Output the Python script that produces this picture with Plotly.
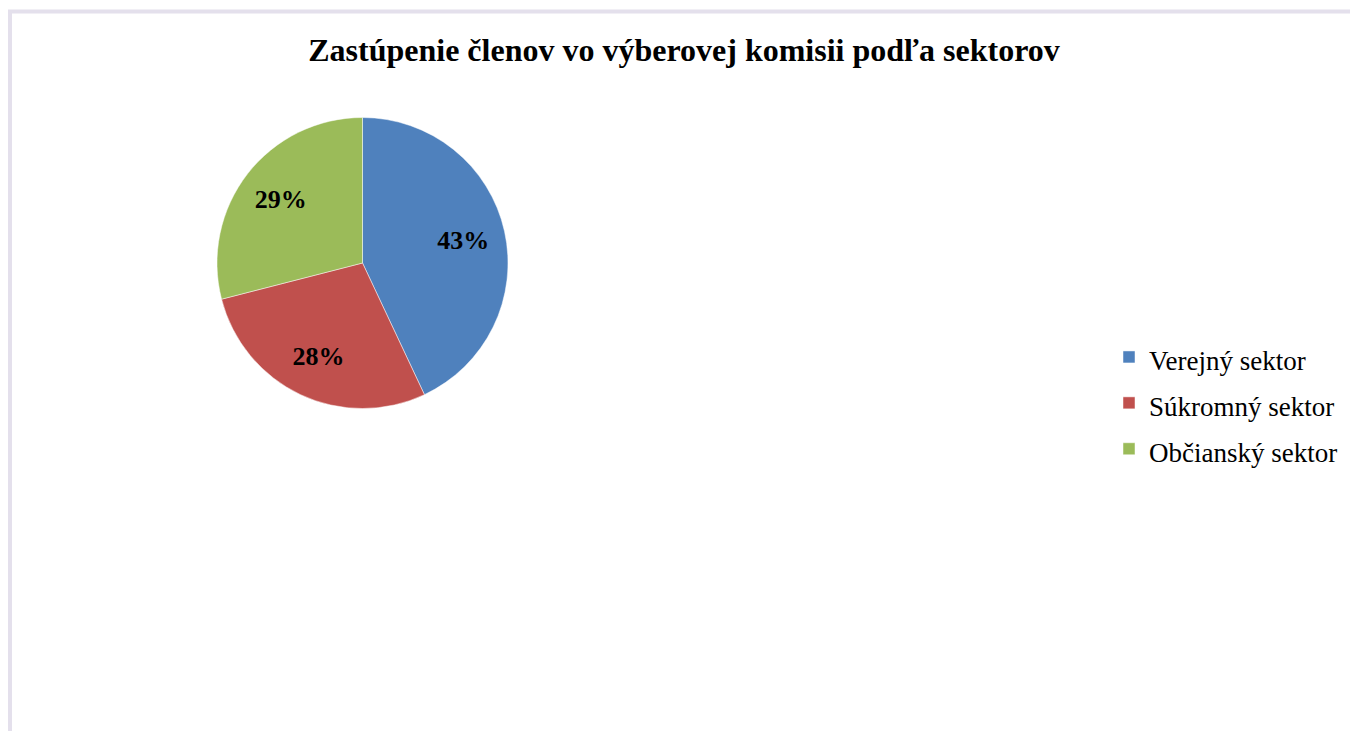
import plotly.graph_objects as go

# Data
categories = ["Verejný sektor", "Súkromný sektor", "Občianský sektor"]
values = [43, 28, 29]
colors = ["#4F81BD", "#C0504D", "#9BBB59"]
title_text = "Zastúpenie členov vo výberovej komisii podľa sektorov"

W, H = 1350, 731
SERIF = "Liberation Serif, Times New Roman, serif"

legend_labels = ['<span style="font-size:27px">%s</span>' % c for c in categories]
pie_domain = dict(x=[217 / W, 508 / W], y=[1 - 409 / H, 1 - 117 / H])

fig = go.Figure()

# Slices (with legend)
fig.add_trace(
    go.Pie(
        labels=legend_labels,
        values=values,
        sort=False,
        direction="clockwise",
        rotation=0,
        marker=dict(colors=colors, line=dict(color="rgba(255,255,255,0.6)", width=0.8)),
        textinfo="none",
        domain=pie_domain,
        hoverinfo="label+percent",
    )
)

# Percentage labels, placed in the outer ring like Excel's data labels
fig.add_trace(
    go.Pie(
        labels=legend_labels,
        values=values,
        sort=False,
        direction="clockwise",
        rotation=0,
        hole=0.42,
        marker=dict(colors=["rgba(0,0,0,0)"] * len(values), line=dict(width=0)),
        texttemplate="%{percent:.0%}",
        textposition="inside",
        insidetextorientation="horizontal",
        textfont=dict(family=SERIF, size=26, color="black", weight="bold"),
        domain=pie_domain,
        showlegend=False,
        hoverinfo="skip",
    )
)

fig.update_layout(
    width=W,
    height=H,
    margin=dict(l=0, r=0, t=0, b=0),
    paper_bgcolor="white",
    plot_bgcolor="white",
    title=dict(
        text=title_text,
        x=684 / W,
        xanchor="center",
        y=1 - 50 / H,
        yanchor="middle",
        font=dict(family=SERIF, size=32, color="black", weight="bold"),
    ),
    legend=dict(
        x=1109 / W,
        xanchor="left",
        y=1 - 403 / H,
        yanchor="middle",
        font=dict(family=SERIF, size=33, color="black"),
        bgcolor="rgba(0,0,0,0)",
    ),
    shapes=[
        dict(
            type="rect",
            xref="paper",
            yref="paper",
            x0=10 / W,
            x1=1.05,
            y0=-0.05,
            y1=1 - 11.5 / H,
            line=dict(color="#E4E0EC", width=4),
            fillcolor="rgba(0,0,0,0)",
            layer="below",
        )
    ],
)

fig.write_html(
    "out.html",
    config={"displayModeBar": False},
    post_script="document.body.style.margin='0';",
)
